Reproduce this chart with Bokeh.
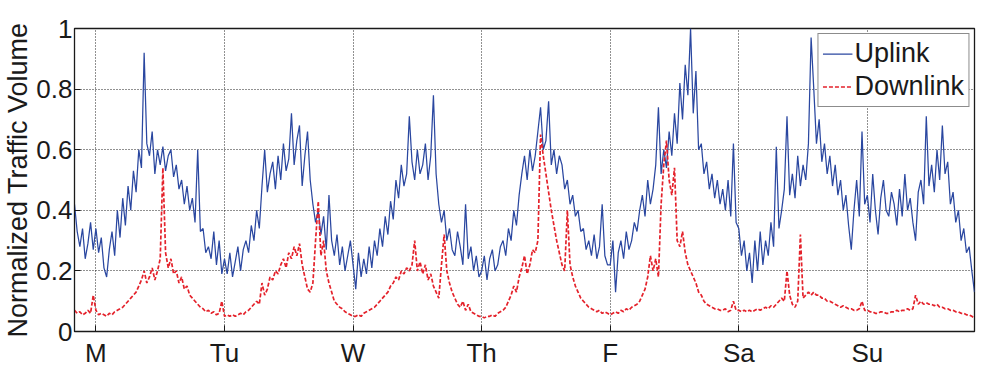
from bokeh.plotting import figure
from bokeh.models import FixedTicker, Legend, LegendItem, ColumnDataSource
from bokeh.embed import file_html
from bokeh.resources import INLINE

# ---- data (normalized traffic volume, sampled every 30 min, starting 4 h before Monday 00:00) ----
start_hour = -4
step_hours = 0.5

uplink = [
    # Sunday night before Monday (h -4 .. -0.5)
    0.42, 0.33, 0.28, 0.34, 0.24, 0.29, 0.36, 0.27,
    # Monday
    0.34, 0.26, 0.31, 0.21, 0.18, 0.27, 0.33, 0.25, 0.40, 0.31, 0.44, 0.35,
    0.48, 0.40, 0.53, 0.46, 0.60, 0.54, 0.92, 0.62, 0.58, 0.66, 0.52, 0.60,
    0.55, 0.61, 0.53, 0.58, 0.60, 0.51, 0.55, 0.47, 0.50, 0.42, 0.48, 0.40,
    0.44, 0.36, 0.60, 0.33, 0.34, 0.26, 0.28, 0.24, 0.33, 0.22, 0.30, 0.19,
    # Tuesday
    0.24, 0.19, 0.26, 0.18, 0.23, 0.28, 0.20, 0.27, 0.30, 0.26, 0.35, 0.30,
    0.40, 0.34, 0.48, 0.60, 0.46, 0.52, 0.56, 0.47, 0.58, 0.50, 0.62, 0.53,
    0.57, 0.72, 0.55, 0.63, 0.68, 0.48, 0.58, 0.66, 0.50, 0.42, 0.36, 0.40,
    0.32, 0.38, 0.27, 0.45, 0.30, 0.25, 0.32, 0.22, 0.28, 0.20, 0.25, 0.30,
    # Wednesday
    0.22, 0.14, 0.26, 0.18, 0.24, 0.19, 0.28, 0.21, 0.30, 0.25, 0.34, 0.28,
    0.38, 0.32, 0.43, 0.37, 0.50, 0.44, 0.55, 0.48, 0.52, 0.71, 0.56, 0.50,
    0.60, 0.52, 0.55, 0.62, 0.50, 0.58, 0.78, 0.52, 0.42, 0.36, 0.40, 0.30,
    0.34, 0.27, 0.25, 0.33, 0.28, 0.22, 0.42, 0.24, 0.28, 0.20, 0.25, 0.18,
    # Thursday
    0.20, 0.25, 0.17, 0.24, 0.27, 0.20, 0.22, 0.28, 0.30, 0.25, 0.34, 0.30,
    0.40, 0.35, 0.45, 0.52, 0.58, 0.50, 0.60, 0.53, 0.58, 0.66, 0.74, 0.60,
    0.63, 0.76, 0.55, 0.60, 0.52, 0.58, 0.55, 0.47, 0.50, 0.42, 0.45, 0.38,
    0.40, 0.33, 0.34, 0.27, 0.30, 0.25, 0.32, 0.24, 0.28, 0.42, 0.25, 0.22,
    # Friday
    0.22, 0.30, 0.13, 0.26, 0.30, 0.24, 0.33, 0.27, 0.30, 0.36, 0.33, 0.40,
    0.45, 0.38, 0.50, 0.42, 0.47, 0.55, 0.74, 0.52, 0.60, 0.54, 0.66, 0.58,
    0.72, 0.62, 0.82, 0.70, 0.88, 0.78, 1.00, 0.72, 0.86, 0.60, 0.62, 0.52,
    0.56, 0.47, 0.52, 0.44, 0.50, 0.42, 0.47, 0.40, 0.50, 0.38, 0.62, 0.36,
    # Saturday
    0.34, 0.25, 0.30, 0.20, 0.26, 0.16, 0.30, 0.20, 0.33, 0.22, 0.30, 0.25,
    0.36, 0.28, 0.61, 0.34, 0.40, 0.47, 0.71, 0.45, 0.52, 0.44, 0.58, 0.48,
    0.55, 0.50, 0.62, 0.97, 0.80, 0.62, 0.70, 0.56, 0.62, 0.52, 0.58, 0.48,
    0.55, 0.45, 0.50, 0.40, 0.45, 0.35, 0.27, 0.40, 0.50, 0.38, 0.66, 0.42,
    # Sunday (h 144 .. 164)
    0.45, 0.36, 0.52, 0.40, 0.32, 0.44, 0.50, 0.40, 0.38, 0.46, 0.42, 0.35,
    0.47, 0.38, 0.52, 0.40, 0.44, 0.36, 0.30, 0.46, 0.50, 0.42, 0.71, 0.48,
    0.55, 0.46, 0.60, 0.50, 0.68, 0.52, 0.56, 0.42, 0.46, 0.36, 0.40, 0.30,
    0.34, 0.26, 0.28, 0.20, 0.13,
]

downlink = [
    # Sunday night before Monday
    0.07, 0.06, 0.065, 0.055, 0.06, 0.07, 0.06, 0.12,
    # Monday
    0.07, 0.055, 0.06, 0.055, 0.05, 0.06, 0.055, 0.065, 0.07, 0.075, 0.08, 0.09,
    0.10, 0.11, 0.12, 0.13, 0.15, 0.17, 0.20, 0.16, 0.18, 0.21, 0.17, 0.20,
    0.24, 0.54, 0.26, 0.21, 0.24, 0.19, 0.20, 0.16, 0.18, 0.14, 0.15, 0.12,
    0.11, 0.10, 0.09, 0.08, 0.075, 0.065, 0.07, 0.06, 0.065, 0.055, 0.06, 0.10,
    # Tuesday
    0.05, 0.055, 0.05, 0.055, 0.05, 0.055, 0.06, 0.055, 0.065, 0.07, 0.08, 0.09,
    0.10, 0.09, 0.16, 0.12, 0.14, 0.18, 0.17, 0.20, 0.19, 0.22, 0.24, 0.21,
    0.26, 0.24, 0.28, 0.25, 0.29, 0.22, 0.18, 0.14, 0.13, 0.16, 0.30, 0.43,
    0.25, 0.30, 0.20, 0.16, 0.13, 0.10, 0.09, 0.08, 0.075, 0.065, 0.06, 0.055,
    # Wednesday
    0.05, 0.05, 0.055, 0.05, 0.06, 0.065, 0.07, 0.075, 0.08, 0.09, 0.10, 0.11,
    0.12, 0.13, 0.15, 0.16, 0.18, 0.17, 0.20, 0.19, 0.21, 0.20, 0.22, 0.30,
    0.20, 0.23, 0.19, 0.22, 0.17, 0.19, 0.15, 0.13, 0.11, 0.22, 0.32, 0.20,
    0.16, 0.13, 0.11, 0.09, 0.08, 0.10, 0.07, 0.09, 0.065, 0.06, 0.055, 0.05,
    # Thursday
    0.05, 0.045, 0.05, 0.05, 0.055, 0.05, 0.06, 0.065, 0.07, 0.08, 0.10, 0.12,
    0.15, 0.13, 0.18, 0.21, 0.25, 0.19, 0.22, 0.27, 0.26, 0.30, 0.65, 0.58,
    0.52, 0.46, 0.40, 0.35, 0.30, 0.26, 0.22, 0.20, 0.40, 0.22, 0.18, 0.15,
    0.13, 0.11, 0.10, 0.09, 0.08, 0.075, 0.07, 0.065, 0.07, 0.06, 0.065, 0.06,
    # Friday
    0.055, 0.06, 0.065, 0.06, 0.07, 0.065, 0.075, 0.07, 0.08, 0.085, 0.09, 0.10,
    0.12, 0.14, 0.18, 0.25, 0.20, 0.24, 0.18, 0.42, 0.55, 0.63, 0.50, 0.45,
    0.54, 0.30, 0.28, 0.33, 0.26, 0.22, 0.20, 0.18, 0.16, 0.13, 0.12, 0.10,
    0.09, 0.085, 0.08, 0.075, 0.075, 0.07, 0.07, 0.075, 0.065, 0.07, 0.10, 0.07,
    # Saturday
    0.07, 0.065, 0.07, 0.065, 0.07, 0.065, 0.07, 0.075, 0.07, 0.075, 0.08, 0.075,
    0.085, 0.08, 0.09, 0.10, 0.11, 0.10, 0.20, 0.12, 0.09, 0.08, 0.10, 0.32,
    0.11, 0.12, 0.13, 0.12, 0.13, 0.12, 0.12, 0.11, 0.11, 0.10, 0.10, 0.095,
    0.09, 0.085, 0.08, 0.085, 0.08, 0.075, 0.075, 0.07, 0.07, 0.075, 0.10, 0.07,
    # Sunday (h 144 .. 164)
    0.07, 0.065, 0.065, 0.06, 0.06, 0.065, 0.065, 0.06, 0.06, 0.065, 0.065, 0.07,
    0.065, 0.07, 0.07, 0.075, 0.07, 0.075, 0.12, 0.09, 0.10, 0.09, 0.095, 0.09,
    0.09, 0.085, 0.09, 0.08, 0.08, 0.075, 0.075, 0.07, 0.07, 0.065, 0.065, 0.06,
    0.06, 0.055, 0.055, 0.05, 0.045,
]

day_ticks = [0, 24, 48, 72, 96, 120, 144]
day_labels = ["M", "Tu", "W", "Th", "F", "Sa", "Su"]
y_ticks = [0, 0.2, 0.4, 0.6, 0.8, 1]
y_labels = ["0", "0.2", "0.4", "0.6", "0.8", "1"]

series_names = ["Uplink", "Downlink"]

# ---- build sources ----
up_src = ColumnDataSource(dict(
    h=[start_hour + step_hours * i for i in range(len(uplink))], v=uplink))
dn_src = ColumnDataSource(dict(
    h=[start_hour + step_hours * i for i in range(len(downlink))], v=downlink))

FONT = "Liberation Sans"
FS = "26px"
INK = "#1a1a1a"

p = figure(width=980, height=370, output_backend="svg", toolbar_location=None,
           x_range=(-4, 164), y_range=(0, 1),
           min_border_left=73, min_border_right=6, min_border_top=28, min_border_bottom=38)

p.background_fill_color = "white"
p.border_fill_color = "white"
p.outline_line_color = INK
p.outline_line_width = 1.3

# grid
for g in (p.xgrid, p.ygrid):
    g.grid_line_color = "#222222"
    g.grid_line_dash = "1 2"
    g.grid_line_width = 1
p.xgrid.ticker = FixedTicker(ticks=day_ticks)
p.ygrid.ticker = FixedTicker(ticks=y_ticks)

# axes
xa = p.xaxis[0]
xa.ticker = FixedTicker(ticks=day_ticks)
xa.major_label_overrides = {t: l for t, l in zip(day_ticks, day_labels)}
ya = p.yaxis[0]
ya.ticker = FixedTicker(ticks=y_ticks)
ya.major_label_overrides = {t: l for t, l in zip(y_ticks, y_labels)}
ya.axis_label = "Normalized Traffic Volume"

for ax in (xa, ya):
    ax.major_label_text_font = FONT
    ax.major_label_text_font_size = FS
    ax.major_label_text_color = INK
    ax.axis_label_text_font = FONT
    ax.axis_label_text_font_size = "27px"
    ax.axis_label_text_font_style = "normal"
    ax.axis_label_text_color = INK
    ax.major_tick_out = 0
    ax.major_tick_in = 6
    ax.minor_tick_out = 0
    ax.minor_tick_in = 0
    ax.axis_line_color = INK
    ax.major_tick_line_color = INK
xa.major_label_standoff = 6
ya.major_label_standoff = 2
ya.axis_label_standoff = 0

# lines
r_up = p.line("h", "v", source=up_src, line_color="#2a47a0", line_width=1.25)
r_dn = p.line("h", "v", source=dn_src, line_color="#e4222b", line_width=1.7, line_dash="4 2")

legend = Legend(items=[LegendItem(label=series_names[0], renderers=[r_up]),
                       LegendItem(label=series_names[1], renderers=[r_dn])],
                location="top_right")
legend.label_text_font = FONT
legend.label_text_font_size = "27px"
legend.label_text_color = INK
legend.glyph_width = 30
legend.glyph_height = 31
legend.label_height = 31
legend.label_standoff = 2
legend.spacing = 2
legend.padding = 4
legend.margin = 5
legend.border_line_color = INK
legend.border_line_width = 1
legend.background_fill_color = "white"
legend.background_fill_alpha = 1
p.add_layout(legend)

open("out.html", "w").write(file_html(p, INLINE))
